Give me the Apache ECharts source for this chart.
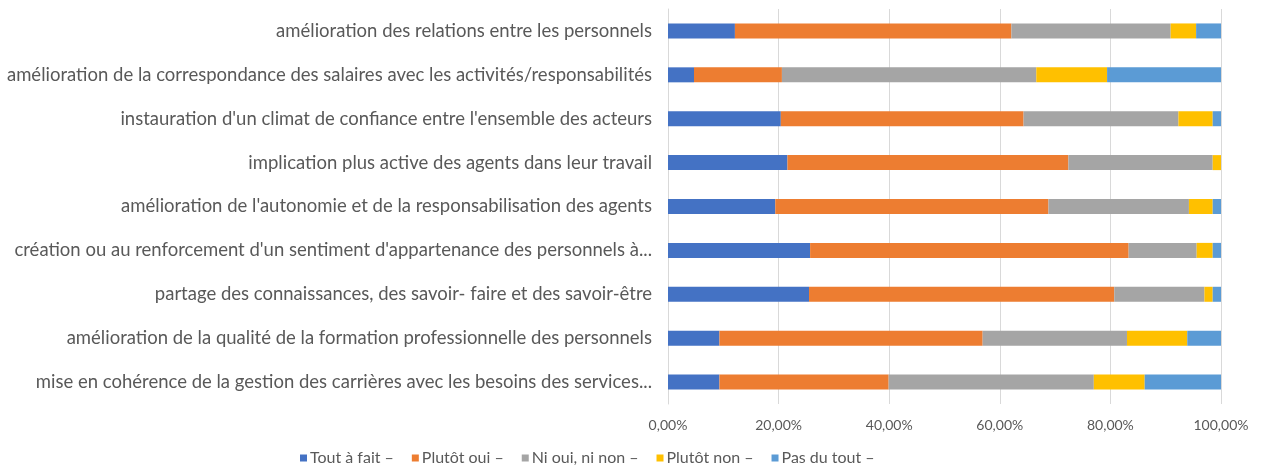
<!DOCTYPE html>
<html>
<head>
<meta charset="utf-8">
<script src="https://cdn.jsdelivr.net/npm/echarts@6/dist/echarts.min.js"></script>
<style>html,body{margin:0;padding:0;background:#fff}#c{width:1262px;height:470px}</style>
</head>
<body>
<div id="c"></div>
<script>
const categories = [
  "amélioration des relations entre les personnels",
  "amélioration de la correspondance des salaires avec les activités/responsabilités",
  "instauration d'un climat de confiance entre l'ensemble des acteurs",
  "implication plus active des agents dans leur travail",
  "amélioration de l'autonomie et de la responsabilisation des agents",
  "création ou au renforcement d'un sentiment d'appartenance des personnels à...",
  "partage des connaissances, des savoir- faire et des savoir-être",
  "amélioration de la qualité de la formation professionnelle des personnels",
  "mise en cohérence de la gestion des carrières avec les besoins des services..."
];
const seriesNames = ["Tout à fait –", "Plutôt oui –", "Ni oui, ni non –", "Plutôt non –", "Pas du tout –"];
const toutAFait  = [12.1, 4.7, 20.4, 21.6, 19.4, 25.7, 25.5, 9.3, 9.3];
const plutotOui  = [50.0, 15.9, 43.9, 50.8, 49.4, 57.6, 55.2, 47.6, 30.6];
const niOuiNiNon = [28.8, 46.0, 28.0, 26.1, 25.4, 12.3, 16.3, 26.1, 37.1];
const plutotNon  = [4.6, 12.8, 6.2, 1.5, 4.3, 2.9, 1.5, 10.9, 9.2];
const pasDuTout  = [4.5, 20.6, 1.5, 0.0, 1.5, 1.5, 1.5, 6.1, 13.8];
const tickLabels = ["0,00%", "20,00%", "40,00%", "60,00%", "80,00%", "100,00%"];
const colors = ["#4472C4", "#ED7D31", "#A5A5A5", "#FFC000", "#5B9BD5"];
const values = [toutAFait, plutotOui, niOuiNiNon, plutotNon, pasDuTout];

const font = "Lato, 'Noto Sans', sans-serif";
const ctx = document.createElement('canvas').getContext('2d');
function fitSize(text, target) {
  ctx.font = '100px ' + font;
  const w = ctx.measureText(text).width;
  return Math.round(100 * target / w * 10) / 10;
}
const catSize = fitSize(categories[1], 644);
const tickSize = fitSize("100,00%", 55);
const legSize = fitSize("Ni oui, ni non –", 107);

const chart = echarts.init(document.getElementById('c'), null, {renderer: 'canvas'});
chart.setOption({
  animation: false,
  color: colors,
  textStyle: {fontFamily: font},
  grid: {left: 668, right: 41, top: 9, bottom: 66, containLabel: false},
  legend: {
    left: 300, top: 450, padding: 0,
    itemWidth: 7, itemHeight: 7, itemGap: 18,
    icon: 'rect',
    textStyle: {color: '#595959', fontSize: legSize, fontFamily: font, padding: [0, 0, 0, -2]},
    data: seriesNames
  },
  xAxis: {
    type: 'value', min: 0, max: 100, interval: 20,
    axisLine: {show: false}, axisTick: {show: false},
    splitLine: {lineStyle: {color: '#D9D9D9', width: 1}},
    axisLabel: {color: '#595959', fontSize: tickSize, margin: 14,
      formatter: v => tickLabels[Math.round(v / 20)]}
  },
  yAxis: {
    type: 'category', inverse: true, data: categories,
    axisLine: {show: true, lineStyle: {color: '#D9D9D9'}},
    axisTick: {show: false},
    axisLabel: {color: '#595959', fontSize: catSize, margin: 16}
  },
  series: values.map((d, i) => ({
    name: seriesNames[i], type: 'bar', stack: 'total',
    barWidth: 15, data: d,
    itemStyle: {color: colors[i]}
  }))
});
</script>
</body>
</html>
